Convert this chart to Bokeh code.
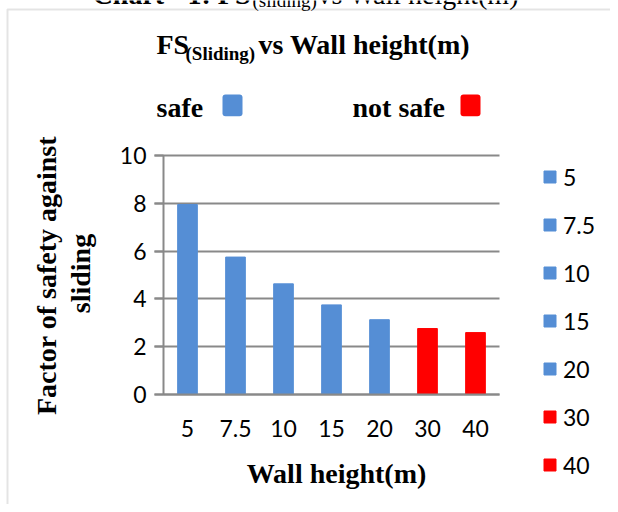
import math
from bokeh.plotting import figure
from bokeh.models import (ColumnDataSource, Range1d, Label, BoxAnnotation, Legend,
                          LegendItem, FixedTicker)
from bokeh.embed import file_html
from bokeh.resources import INLINE

# ---- data ----
wall_heights = ["5", "7.5", "10", "15", "20", "30", "40"]
fs_sliding = [7.95, 5.75, 4.63, 3.75, 3.13, 2.76, 2.59]
status = ["safe", "safe", "safe", "safe", "safe", "not safe", "not safe"]
y_ticks = [0, 2, 4, 6, 8, 10]
header_labels = ["safe", "not safe"]

BLUE = "#558ED5"
RED = "#FF0000"
GRID = "#898989"
BORDER = "#A6A6A6"
SERIF = "Liberation Serif"
SANS = "Lato"

# ---- layout (pixels in the 610x504 canvas) ----
W, H = 610, 504
PLOT_L, PLOT_R, PLOT_T, PLOT_B = 163, 499, 155, 394
TICK_OUT = 9
n = len(wall_heights)
px_per_cat = (PLOT_R - PLOT_L) / n
px_per_unit = (PLOT_B - PLOT_T) / 10.0

x_index = list(range(n))
x_range = Range1d(-0.5 - PLOT_L / px_per_cat, n - 0.5 + (W - PLOT_R) / px_per_cat)
y_range = Range1d(-(H - PLOT_B) / px_per_unit, 10 + PLOT_T / px_per_unit)

colors = [BLUE if s == "safe" else RED for s in status]
src = ColumnDataSource(dict(x=x_index, cat=wall_heights, val=fs_sliding, color=colors))

p = figure(x_range=x_range, y_range=y_range, width=W, height=H, output_backend="svg",
           toolbar_location=None, min_border=0)
p.outline_line_color = None
p.background_fill_color = "white"
p.border_fill_color = "white"

# horizontal gridlines (limited to the plot band, extending over the tick marks)
grid_x0 = -0.5 - TICK_OUT / px_per_cat
grid_x1 = n - 0.5
p.xgrid.grid_line_color = None
p.ygrid.ticker = FixedTicker(ticks=y_ticks)
p.ygrid.grid_line_color = GRID
p.ygrid.grid_line_width = 2
try:
    p.ygrid.cross_bounds = (grid_x0, grid_x1)
except AttributeError:
    p.ygrid.grid_line_color = None
    p.segment(x0=[grid_x0] * len(y_ticks), x1=[grid_x1] * len(y_ticks),
              y0=y_ticks, y1=y_ticks, line_color=GRID, line_width=2, level="underlay")

bars = p.vbar(x="x", top="val", width=0.41, color="color", source=src)

# y axis drawn at the left edge of the category band
yax = p.yaxis[0]
yax.fixed_location = -0.5
yax.bounds = (0, 10)
yax.ticker = FixedTicker(ticks=y_ticks)
yax.axis_line_color = GRID
yax.axis_line_width = 2
yax.major_tick_line_color = GRID
yax.major_tick_line_width = 2
yax.major_tick_out = TICK_OUT
yax.major_tick_in = 0
yax.minor_tick_line_color = None
yax.major_label_standoff = 8
yax.major_label_text_font = SANS
yax.major_label_text_font_size = "23px"
yax.major_label_text_color = "black"

# category x axis drawn at y = 0
xax = p.xaxis[0]
xax.fixed_location = 0
xax.bounds = (-0.5, n - 0.5)
xax.ticker = FixedTicker(ticks=x_index)
xax.major_label_overrides = {i: c for i, c in zip(x_index, wall_heights)}
xax.axis_line_color = GRID
xax.axis_line_width = 2
xax.major_tick_line_color = None
xax.major_tick_out = 0
xax.major_tick_in = 0
xax.minor_tick_line_color = None
xax.major_label_standoff = 25
xax.major_label_text_font = SANS
xax.major_label_text_font_size = "23px"
xax.major_label_text_color = "black"

# legend at the right
items = [LegendItem(label=c, renderers=[bars], index=i) for i, c in enumerate(wall_heights)]
leg = Legend(items=items, location=(542, H - 478.5), orientation="vertical",
             border_line_color=None, background_fill_alpha=0, padding=0, margin=0,
             glyph_width=15, glyph_height=15, label_height=15, spacing=20,
             label_standoff=6, label_text_font=SANS, label_text_font_size="23px",
             label_text_color="black")
p.add_layout(leg)

BASE_SHIFT = 0.32  # em offset between requested and drawn baseline

def lab(text, x, y, size, align="left", angle=0, bold=True, font=SERIF):
    d = BASE_SHIFT * size
    if angle == 0:
        sx, sy = x, H - (y - d)
    else:
        sx, sy = x - d, H - y
    p.add_layout(Label(x=sx, y=sy, x_units="screen", y_units="screen", text=text,
                       text_font=font, text_font_size=f"{size}px",
                       text_font_style="bold" if bold else "normal",
                       text_color="black", text_align=align, text_baseline="alphabetic",
                       angle=angle))

def box(l, r, t, b, **kw):
    p.add_layout(BoxAnnotation(left=l, right=r, top=H - t, bottom=H - b,
                               left_units="screen", right_units="screen",
                               top_units="screen", bottom_units="screen", **kw))

# chart-area border (left and top edges visible)
box(7, 800, 9, 800, fill_alpha=0, line_color=BORDER, line_width=2)

# caption above the chart area (cut off at the top)
lab("Chart - 1: FS", 250, 3, 28, align="right")
lab("(sliding)", 252, 6, 19, bold=False)
lab("vs Wall height(m)", 317, 3, 28, bold=False)

# title
lab("FS", 156, 53.3, 28)
lab("(Sliding)", 185, 59.3, 19)
lab("vs Wall height(m)", 258, 53.3, 28)

# safe / not safe key
lab(header_labels[0], 156, 115.7, 28)
lab(header_labels[1], 352, 115.7, 28)
box(222, 242, 94, 115.7, fill_color=BLUE, fill_alpha=1, line_color=None, border_radius=3)
box(460, 480, 94, 115.7, fill_color=RED, fill_alpha=1, line_color=None, border_radius=3)

# axis titles
lab("Wall height(m)", 336, 481.7, 28, align="center")
lab("Factor of safety against", 55, 275, 28, align="center", angle=math.pi / 2)
lab("sliding", 89, 273, 28, align="center", angle=math.pi / 2)

open("out.html", "w").write(file_html(p, INLINE))
